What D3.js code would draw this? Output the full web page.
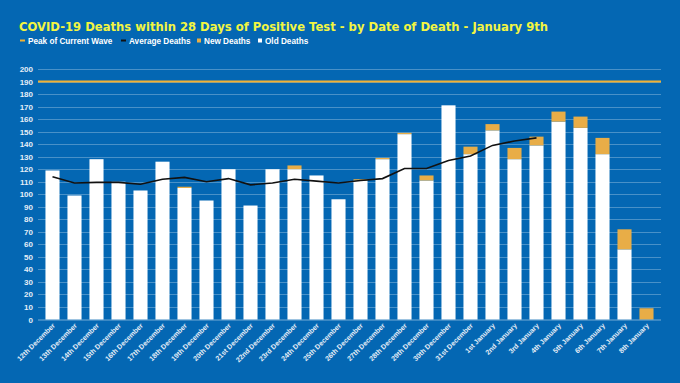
<!DOCTYPE html>
<html>
<head>
<meta charset="utf-8">
<script src="https://cdn.jsdelivr.net/npm/d3@7"></script>
<style>
  body { margin: 0; background: #0467b3; }
  svg { display: block; }
</style>
</head>
<body>
<div class="chart"></div>
<script>
// dates on the x axis
const dates = ["12th December", "13th December", "14th December", "15th December", "16th December",
  "17th December", "18th December", "19th December", "20th December", "21st December",
  "22nd December", "23rd December", "24th December", "25th December", "26th December",
  "27th December", "28th December", "29th December", "30th December", "31st December",
  "1st January", "2nd January", "3rd January", "4th January", "5th January",
  "6th January", "7th January", "8th January"];

// deaths already reported (white) and newly reported (orange)
const oldDeaths = [119, 99, 128, 110, 103, 126, 105, 95, 120, 91, 120, 120, 115, 96, 111,
  128, 148, 111, 171, 132, 151, 128, 139, 158, 153, 132, 56, 0];
const newDeaths = [0, 0, 0, 0, 0, 0, 1, 0, 0, 0, 0, 3, 0, 0, 1,
  1, 1, 4, 0, 6, 5, 9, 7, 8, 9, 13, 16, 9];

// rolling average, stops at 3rd January
const avgDeaths = [114, 109, 109.5, 109.5, 108, 112, 113.5, 110, 112.5, 107.5, 109, 112,
  110.5, 109, 111, 112.5, 120.5, 120.5, 127, 130.5, 139, 142.5, 145];

const peak = 190;
const yTicks = d3.range(0, 201, 10);

const width = 680;
const height = 383;

const svg = d3.select('.chart')
  .append('svg')
  .attr('width', width)
  .attr('height', height);

// title
svg.append('text')
  .attr('x', 19)
  .attr('y', 31)
  .attr('font-family', 'DejaVu Sans')
  .attr('font-weight', 'bold')
  .attr('font-size', 11.6)
  .attr('fill', '#f2f542')
  .text('COVID-19 Deaths within 28 Days of Positive Test - by Date of Death - January 9th');

// legend
const legend = [
  {label: 'Peak of Current Wave', x: 20, kind: 'line', color: '#f2b233'},
  {label: 'Average Deaths', x: 121, kind: 'line', color: '#111111'},
  {label: 'New Deaths', x: 197, kind: 'box', color: '#e8ad47'},
  {label: 'Old Deaths', x: 258, kind: 'box', color: '#ffffff'}
];
const leg = svg.append('g').selectAll('g').data(legend).enter().append('g');
leg.filter(d => d.kind == 'line').append('rect')
  .attr('x', d => d.x).attr('y', 39.5).attr('width', 5).attr('height', 2)
  .attr('fill', d => d.color);
leg.filter(d => d.kind == 'box').append('rect')
  .attr('x', d => d.x).attr('y', 38.5).attr('width', 4).attr('height', 4)
  .attr('fill', d => d.color);
leg.append('text')
  .attr('x', d => d.x + (d.kind == 'line' ? 8 : 7))
  .attr('y', 43.5)
  .attr('font-family', 'Liberation Sans')
  .attr('font-weight', 'bold')
  .attr('font-size', 8.2)
  .attr('fill', '#ffffff')
  .text(d => d.label);

// scales
const x = d3.scaleBand()
  .domain(dates)
  .range([41.5, 657.5])
  .paddingInner(0.36)
  .paddingOuter(0.18);

const y = d3.scaleLinear()
  .domain([0, 200])
  .range([319.5, 69]);

// gridlines
svg.append('g').selectAll('line')
  .data(yTicks.filter(d => d > 0))
  .enter()
  .append('line')
  .attr('x1', 38).attr('x2', 661)
  .attr('y1', d => Math.round(y(d)) + 0.5)
  .attr('y2', d => Math.round(y(d)) + 0.5)
  .attr('stroke', 'rgba(255,255,255,0.28)')
  .attr('stroke-width', 1);

// y tick labels
svg.append('g').selectAll('text')
  .data(yTicks)
  .enter()
  .append('text')
  .attr('x', 33)
  .attr('y', d => y(d) + 3)
  .attr('text-anchor', 'end')
  .attr('font-family', 'Liberation Sans')
  .attr('font-weight', 'bold')
  .attr('font-size', 8)
  .attr('fill', '#e6eef7')
  .text(d => d);

// stacked bars
const bars = svg.append('g').selectAll('g')
  .data(dates)
  .enter()
  .append('g');

bars.append('rect')
  .attr('x', d => x(d))
  .attr('width', x.bandwidth())
  .attr('y', (d, i) => y(oldDeaths[i]))
  .attr('height', (d, i) => y(0) - y(oldDeaths[i]))
  .attr('fill', '#ffffff');

bars.append('rect')
  .attr('x', d => x(d))
  .attr('width', x.bandwidth())
  .attr('y', (d, i) => y(oldDeaths[i] + newDeaths[i]))
  .attr('height', (d, i) => y(oldDeaths[i]) - y(oldDeaths[i] + newDeaths[i]))
  .attr('fill', '#e8ad47');

// x axis line
svg.append('line')
  .attr('x1', 38).attr('x2', 661)
  .attr('y1', 320).attr('y2', 320)
  .attr('stroke', 'rgba(255,255,255,0.45)');

// peak line
svg.append('line')
  .attr('x1', 38).attr('x2', 661)
  .attr('y1', y(peak)).attr('y2', y(peak))
  .attr('stroke', '#f2b233')
  .attr('stroke-width', 2);

// average line
const line = d3.line()
  .x((d, i) => x(dates[i]) + x.bandwidth() / 2)
  .y(d => y(d));

svg.append('path')
  .datum(avgDeaths)
  .attr('d', line)
  .attr('fill', 'none')
  .attr('stroke', '#111111')
  .attr('stroke-width', 1.6);

// x labels, rotated
svg.append('g').selectAll('text')
  .data(dates)
  .enter()
  .append('text')
  .attr('transform', d => 'translate(' + (x(d) + x.bandwidth() / 2 + 3) + ',326) rotate(-45)')
  .attr('text-anchor', 'end')
  .attr('font-family', 'Liberation Sans')
  .attr('font-weight', 'bold')
  .attr('font-size', 7)
  .attr('fill', '#e6eef7')
  .text(d => d);
</script>
</body>
</html>
